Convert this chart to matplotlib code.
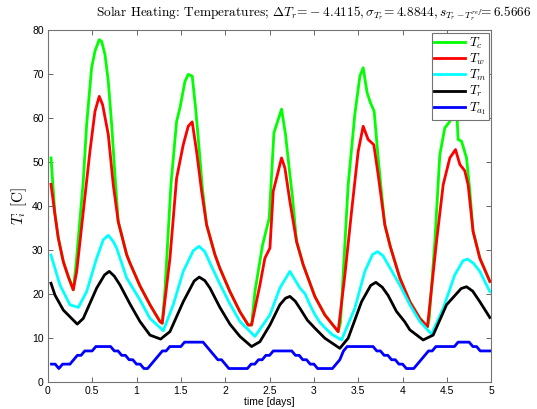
import matplotlib
matplotlib.use("Agg")
import matplotlib.pyplot as plt
import numpy as np

plt.rcParams['mathtext.fontset'] = 'cm'
plt.rcParams['font.family'] = ['Liberation Sans', 'DejaVu Sans']
plt.rcParams['axes.unicode_minus'] = False

# ---------------- data ----------------
# collector temperature T_c (green)
t_c = [0.036, 0.081, 0.118, 0.175, 0.231, 0.287, 0.318, 0.400, 0.438, 0.494, 0.532, 0.580,
       0.607, 0.645, 0.682, 0.720, 0.757, 0.794, 0.889, 0.926, 1.039, 1.152, 1.264, 1.290,
       1.320, 1.388, 1.452, 1.490, 1.546, 1.583, 1.628, 1.666, 1.715, 1.740, 1.790, 1.884,
       1.940, 2.053, 2.166, 2.259, 2.297, 2.335, 2.421, 2.496, 2.549, 2.635, 2.680, 2.729,
       2.758, 2.804, 2.879, 3.010, 3.123, 3.273, 3.300, 3.386, 3.461, 3.518, 3.555, 3.600,
       3.638, 3.679, 3.724, 3.757, 3.799, 3.860, 3.968, 4.081, 4.194, 4.280, 4.300, 4.363,
       4.419, 4.475, 4.532, 4.588, 4.605, 4.625, 4.664, 4.720, 4.757, 4.794, 4.870, 4.983]
T_c = [50.9, 38.0, 32.7, 27.3, 23.9, 20.9, 26.6, 45.6, 58.5, 71.4, 75.2, 77.8,
       77.4, 74.4, 68.3, 58.5, 47.0, 36.4, 28.9, 27.0, 21.8, 17.5, 13.7, 13.3,
       20.5, 44.8, 59.2, 62.3, 68.3, 69.9, 69.5, 62.3, 50.9, 44.5, 35.7, 28.9,
       25.8, 20.5, 15.9, 12.9, 12.9, 20.5, 31.1, 37.2, 56.6, 62.0, 56.2, 47.1,
       42.0, 31.9, 26.6, 19.4, 15.2, 11.4, 13.5, 44.8, 60.8, 69.5, 71.4, 65.7,
       63.4, 61.5, 50.9, 44.0, 35.7, 30.8, 23.6, 18.2, 14.4, 12.5, 14.5, 31.9,
       51.6, 57.7, 59.2, 61.9, 64.0, 55.1, 54.7, 50.9, 43.5, 34.2, 28.1, 22.8]

# water temperature T_w (red)
t_w = [0.036, 0.081, 0.118, 0.175, 0.231, 0.287, 0.326, 0.400, 0.475, 0.532, 0.580, 0.618,
       0.682, 0.738, 0.794, 0.889, 0.926, 1.039, 1.152, 1.264, 1.290, 1.377, 1.452, 1.527,
       1.583, 1.628, 1.677, 1.734, 1.790, 1.884, 1.940, 2.053, 2.166, 2.259, 2.297, 2.391,
       2.447, 2.504, 2.541, 2.597, 2.635, 2.673, 2.729, 2.804, 2.879, 3.010, 3.123, 3.273,
       3.349, 3.424, 3.499, 3.555, 3.611, 3.675, 3.724, 3.799, 3.860, 3.968, 4.081, 4.194,
       4.280, 4.382, 4.457, 4.532, 4.596, 4.645, 4.700, 4.738, 4.794, 4.870, 4.983]
T_w = [44.9, 38.0, 32.7, 27.3, 23.9, 20.9, 25.1, 38.7, 52.4, 61.5, 64.9, 63.0,
       56.2, 44.8, 36.4, 28.9, 27.0, 21.8, 17.5, 13.7, 13.3, 28.1, 46.3, 53.9,
       58.1, 59.1, 52.4, 43.3, 35.7, 28.9, 25.8, 20.5, 15.9, 12.9, 12.9, 22.0,
       28.1, 30.4, 43.3, 47.8, 50.9, 48.6, 41.0, 31.9, 26.6, 19.4, 15.2, 11.4,
       24.3, 38.7, 52.4, 58.1, 55.1, 53.9, 47.1, 35.7, 30.8, 23.6, 18.2, 14.4,
       12.5, 31.9, 44.8, 50.9, 52.8, 49.4, 48.0, 44.8, 34.2, 28.1, 22.8]

# mass temperature T_m (cyan)
t_m = [0.036, 0.137, 0.250, 0.344, 0.438, 0.551, 0.626, 0.682, 0.738, 0.776, 0.889, 1.039,
       1.152, 1.302, 1.414, 1.527, 1.640, 1.704, 1.770, 1.828, 1.940, 2.053, 2.166, 2.335,
       2.504, 2.616, 2.729, 2.842, 2.900, 2.954, 3.010, 3.067, 3.123, 3.200, 3.311, 3.461,
       3.574, 3.660, 3.717, 3.780, 3.837, 3.968, 4.081, 4.194, 4.326, 4.457, 4.588, 4.680,
       4.731, 4.800, 4.870, 4.983]
T_m = [28.8, 22.0, 17.5, 16.9, 20.5, 28.1, 32.3, 33.3, 31.9, 30.4, 23.6, 18.6,
       14.4, 11.6, 17.5, 25.1, 29.8, 30.8, 29.6, 27.0, 22.2, 17.7, 13.7, 10.3,
       15.2, 21.3, 25.1, 21.3, 20.0, 17.5, 15.3, 13.5, 12.3, 10.8, 9.5, 16.7,
       25.1, 28.9, 29.6, 28.6, 26.6, 22.0, 17.5, 13.7, 10.8, 16.7, 24.3, 27.5,
       27.9, 26.9, 25.1, 20.5]

# room temperature T_r (black)
t_r = [0.036, 0.081, 0.175, 0.332, 0.400, 0.551, 0.640, 0.693, 0.750, 0.814, 0.926, 1.039,
       1.152, 1.272, 1.377, 1.527, 1.650, 1.707, 1.770, 1.828, 1.940, 2.053, 2.166, 2.297,
       2.391, 2.504, 2.616, 2.680, 2.729, 2.790, 2.842, 2.926, 3.010, 3.123, 3.292, 3.386,
       3.537, 3.640, 3.698, 3.770, 3.837, 3.930, 4.025, 4.081, 4.231, 4.344, 4.495, 4.660,
       4.720, 4.790, 4.870, 4.983]
T_r = [22.4, 19.7, 16.3, 13.1, 14.4, 21.3, 24.3, 25.1, 24.0, 22.0, 17.7, 13.7,
       10.6, 9.7, 11.4, 18.2, 22.9, 23.8, 23.0, 21.3, 16.9, 13.1, 10.3, 8.0,
       9.1, 12.9, 17.5, 19.0, 19.4, 18.3, 16.7, 14.0, 12.2, 9.9, 7.6, 9.9,
       18.2, 21.9, 22.6, 21.5, 19.6, 16.0, 13.6, 11.8, 9.5, 10.6, 17.5, 21.2,
       21.6, 20.6, 18.2, 14.6]

# ambient temperature T_a1 (blue), hourly
hours_a = list(range(1, 121))
T_a = [4, 4, 3, 4, 4, 4, 5, 6, 6, 7, 7, 7, 8, 8, 8, 8, 8, 7, 7, 6, 6, 5, 5, 4,
       4, 3, 3, 4, 5, 6, 7, 7, 8, 8, 8, 8, 9, 9, 9, 9, 9, 9, 8, 7, 6, 5, 5, 4,
       3, 3, 3, 3, 3, 3, 4, 4, 5, 5, 6, 6, 7, 7, 7, 7, 7, 7, 6, 6, 5, 5, 4, 4,
       3, 3, 3, 3, 3, 4, 5, 7, 8, 8, 8, 8, 8, 8, 8, 8, 7, 7, 6, 6, 5, 5, 4, 4,
       3, 3, 3, 4, 5, 6, 7, 7, 8, 8, 8, 8, 8, 8, 9, 9, 9, 9, 8, 8, 7, 7, 7, 7]

labels = [r'$T_c$', r'$T_w$', r'$T_m$', r'$T_r$', r'$T_{a_1}$']
title_txt = (r'Solar Heating: Temperatures; $\Delta T_r\!=\!-4.4115,'
             r'\sigma_{T_r}\!=4.8844,s_{T_r-T_r^{ref}}\!\!=6.5666$')

# ---------------- figure ----------------
fig = plt.figure(figsize=(5.37, 4.09), dpi=100)
ax = fig.add_axes([0.089, 0.0667, 0.826, 0.86])

lw = 2.0
ax.plot(t_c, T_c, color=(0, 1, 0), lw=lw, label=labels[0])
ax.plot(t_w, T_w, color=(1, 0, 0), lw=lw, label=labels[1])
ax.plot(t_m, T_m, color=(0, 1, 1), lw=lw, label=labels[2])
ax.plot(t_r, T_r, color=(0, 0, 0), lw=lw, label=labels[3])
ax.plot(np.array(hours_a) / 24.0, T_a, color=(0, 0, 1), lw=lw, label=labels[4])

ax.set_xlim(0, 5)
ax.set_ylim(0, 80)
ax.set_xticks(np.arange(0, 5.01, 0.5))
ax.set_xticklabels(['0', '0.5', '1', '1.5', '2', '2.5', '3', '3.5', '4', '4.5', '5'])
ax.set_yticks(np.arange(0, 81, 10))
ax.tick_params(direction='in', top=True, right=True, length=3.5, width=0.6,
               labelsize=7.5, color='0.3', pad=3)
for s in ax.spines.values():
    s.set_color('0.45')
    s.set_linewidth(0.8)

ax.set_xlabel('time [days]', fontsize=7.5, labelpad=1)
ax.set_ylabel(r'$T_i\ [\mathrm{C}]$', fontsize=11, labelpad=2)

fig.text(532 / 537, 1 - 14 / 409, title_txt, ha='right', va='center', fontsize=9.6,
         family='cmr10')

leg = ax.legend(loc='upper right', prop={'size': 9.5}, frameon=True, fancybox=False,
                edgecolor='0.45', framealpha=1, handlelength=2.3, handletextpad=0.3,
                labelspacing=0.08, borderpad=0.2, borderaxespad=0.2)
leg.get_frame().set_linewidth(0.8)

fig.savefig('out.png', dpi=100)
